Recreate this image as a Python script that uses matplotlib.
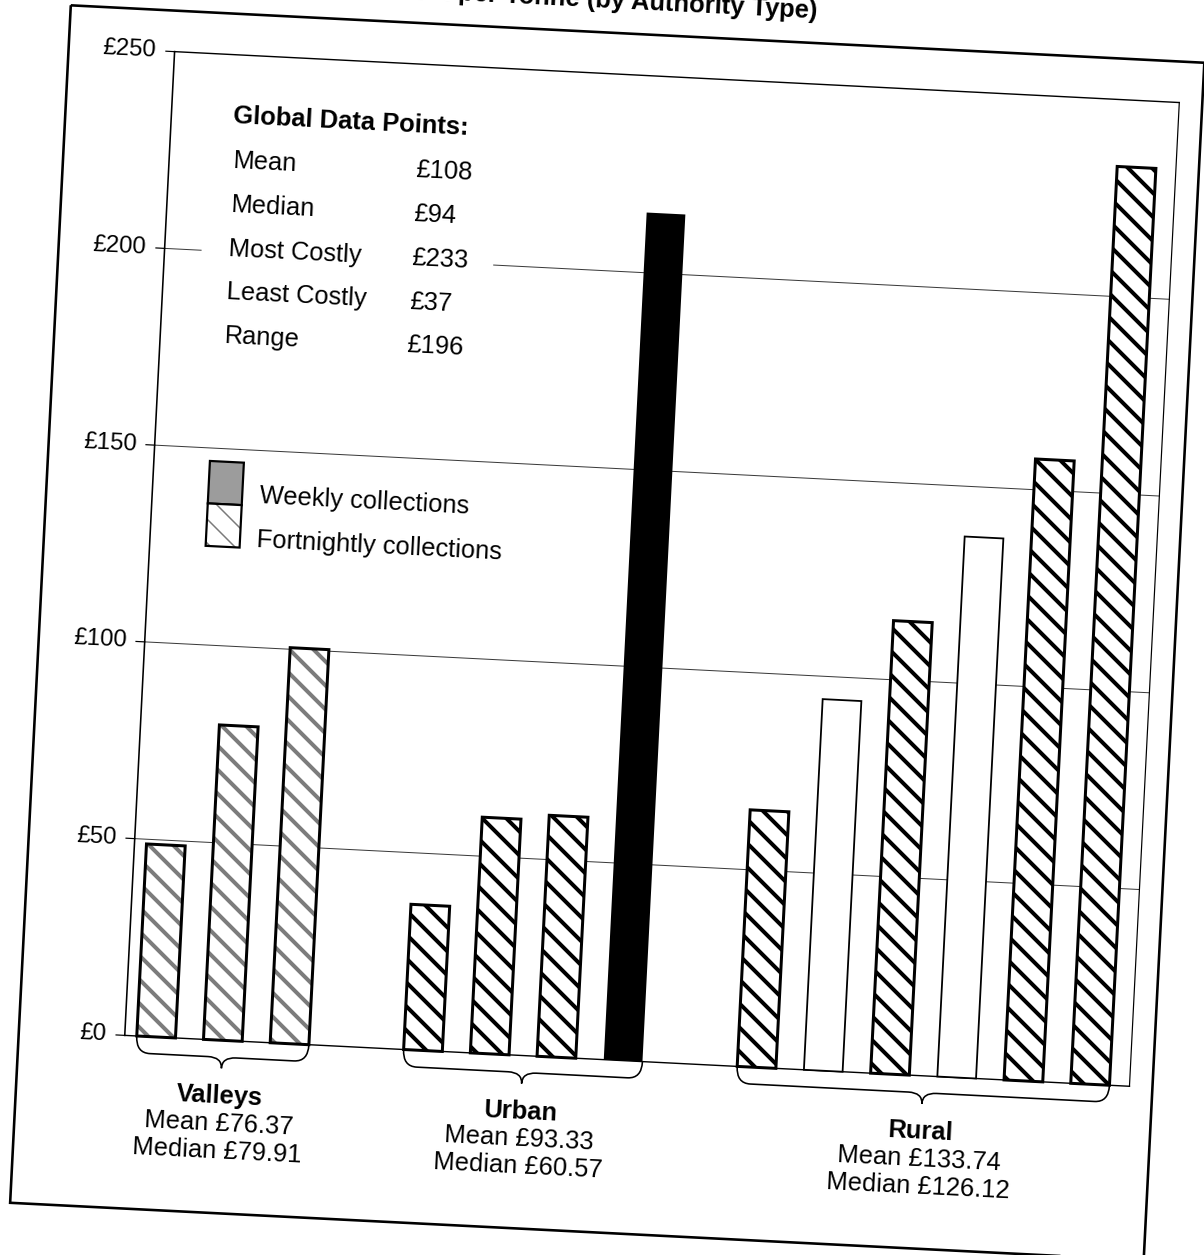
import numpy as np
import matplotlib.pyplot as plt
from matplotlib.transforms import Affine2D
from matplotlib.patches import Rectangle, PathPatch
from matplotlib.path import Path

W, H = 1204, 1255
DPI = 72
TILT = -2.9  # the page sits slightly askew

plt.rcParams['font.family'] = ['Liberation Sans', 'DejaVu Sans']
plt.rcParams['hatch.linewidth'] = 4.0

# cost per tonne for each authority, grouped by authority type
groups = ['Valleys', 'Urban', 'Rural']
valleys = [48.8, 79.91, 100.4]
urban = [36.9, 59.9, 61.24, 215.28]
rural = [65.2, 94.2, 115.0, 137.24, 157.8, 233.0]
group_mean = [76.37, 93.33, 133.74]
group_median = [79.91, 60.57, 126.12]

global_labels = ['Mean', 'Median', 'Most Costly', 'Least Costly', 'Range']
global_values = [108, 94, 233, 37, 196]
yticks = [0, 50, 100, 150, 200, 250]
legend_labels = ['Weekly collections', 'Fortnightly collections']

# fill used for each bar, in plotting order
fills = ['grey'] * 3 + ['hatch'] * 3 + ['solid'] + \
        ['hatch', 'white', 'hatch', 'white', 'hatch', 'hatch']

# one empty slot between the groups
series = [valleys, urban, rural]
xpos, start = [], 0
for s in series:
    xpos.append(np.arange(start, start + len(s)))
    start += len(s) + 1
x = np.concatenate(xpos)
vals = np.concatenate(series)
fills = np.array(fills)

fig = plt.figure(figsize=(W / DPI, H / DPI), dpi=DPI)
rot = Affine2D().rotate_deg_around(W / 2, H / 2, TILT)
page = Affine2D().scale(1, -1).translate(0, H) + rot  # page pixels, y down

ax = fig.add_axes([146 / W, 1 - 1059 / H, (1152 - 146) / W, (1059 - 74) / H])
x0, x1 = -0.47, 14.59
ax.set_xlim(x0, x1)
ax.set_ylim(0, 250)
ax.axis('off')
tr = ax.transData + rot

# grid, frame and ticks
for v in yticks:
    lw = 1.4 if v in (0, 250) else 1.0
    col = 'black' if v in (0, 250) else '#3a3a3a'
    ax.plot([x0, x1], [v, v], color=col, lw=lw, transform=tr, clip_on=False, zorder=1)
    ax.plot([x0 - 0.13, x0], [v, v], color='black', lw=1.2, transform=tr, clip_on=False)
    ax.text(x0 - 0.27, v, f'£{v}', ha='right', va='center', fontsize=24,
            rotation=TILT, rotation_mode='anchor', transform=tr)
ax.plot([x0, x0], [0, 250], color='black', lw=1.6, transform=tr, clip_on=False, zorder=4)
ax.plot([x1, x1], [0, 250], color='black', lw=1.2, transform=tr, clip_on=False, zorder=4)


def draw(mask, **kw):
    bars = ax.bar(x[mask], vals[mask], width=0.58, zorder=3, **kw)
    for b in bars:
        b.set_transform(tr)
        b.set_clip_on(False)
    return bars


m = fills == 'grey'
draw(m, facecolor='white', edgecolor='#7c7c7c', hatch='\\', linewidth=0)
draw(m, fill=False, edgecolor='black', linewidth=3)
draw(fills == 'hatch', facecolor='white', edgecolor='black', hatch='\\', linewidth=3)
draw(fills == 'solid', color='black', linewidth=0)
draw(fills == 'white', facecolor='white', edgecolor='black', linewidth=1.8)

# braces and captions under each group
h1, h2, r = 4.3, 7.1, 0.21
for name, pos, mean, med in zip(groups, xpos, group_mean, group_median):
    a, b = pos[0] - 0.29, pos[-1] + 0.29
    xm = (a + b) / 2
    verts = [(a, 0), (a, -h1), (a + r, -h1), (xm - r, -h1), (xm, -h1), (xm, -h2),
             (xm, -h1), (xm + r, -h1), (b - r, -h1), (b, -h1), (b, 0)]
    codes = [Path.MOVETO, Path.CURVE3, Path.CURVE3, Path.LINETO, Path.CURVE3, Path.CURVE3,
             Path.CURVE3, Path.CURVE3, Path.LINETO, Path.CURVE3, Path.CURVE3]
    brace = PathPatch(Path(verts, codes), fill=False, lw=1.6, edgecolor='black',
                      transform=tr, clip_on=False)
    ax.add_patch(brace)
    cx = pos.mean()
    for yy, txt, wt in [(-16.0, name, 'bold'), (-23.0, f'Mean £{mean:.2f}', 'normal'),
                        (-30.0, f'Median £{med:.2f}', 'normal')]:
        ax.text(cx, yy, txt, ha='center', va='baseline', fontsize=25.5, fontweight=wt,
                rotation=TILT, rotation_mode='anchor', transform=tr)

# title (runs off the top of the page)
fig.text(574, 8, 'Cost per Tonne (by Authority Type)', ha='center', va='baseline',
         fontsize=25.5, fontweight='bold', rotation=TILT, rotation_mode='anchor',
         transform=page)

# outer border
fig.patches.append(Rectangle((40, 33), 1135, 1199, fill=False, lw=2.6,
                             edgecolor='black', transform=page))

# global statistics panel
fig.patches.append(Rectangle((183, 100), 292, 280, facecolor='white', edgecolor='none',
                             transform=page, zorder=5))
fig.text(208, 142, 'Global Data Points:', ha='left', va='baseline', fontsize=25.5,
         fontweight='bold', rotation=TILT, rotation_mode='anchor', transform=page, zorder=6)
fig.lines.append(plt.Line2D([208, 444], [147, 147], color='black', lw=2.6, transform=page))
for i, (lab, val) in enumerate(zip(global_labels, global_values)):
    yy = 187.3 + i * 43.8
    fig.text(210, yy, lab, ha='left', va='baseline', fontsize=25.5,
             rotation=TILT, rotation_mode='anchor', transform=page, zorder=6)
    fig.text(393, yy, f'£{val}', ha='left', va='baseline', fontsize=25.5,
             rotation=TILT, rotation_mode='anchor', transform=page, zorder=6)

# legend
top = Rectangle((202, 481), 34, 42.5, facecolor='#9c9c9c', edgecolor='black', lw=2.2,
                transform=page, zorder=6)
bot = Rectangle((202, 523.5), 34, 42.5, facecolor='white', edgecolor='#7a7a7a',
                hatch='\\', lw=0, transform=page, zorder=6)
if hasattr(bot, 'set_hatch_linewidth'):
    bot.set_hatch_linewidth(1.5)
bot_edge = Rectangle((202, 523.5), 34, 42.5, fill=False, edgecolor='black', lw=2.2,
                     transform=page, zorder=6)
fig.patches.extend([top, bot, bot_edge])
for yy, lab in zip([520.6, 564.4], legend_labels):
    fig.text(253, yy, lab, ha='left', va='baseline', fontsize=25.5,
             rotation=TILT, rotation_mode='anchor', transform=page, zorder=6)

fig.savefig('out.png', dpi=DPI, facecolor='white')
